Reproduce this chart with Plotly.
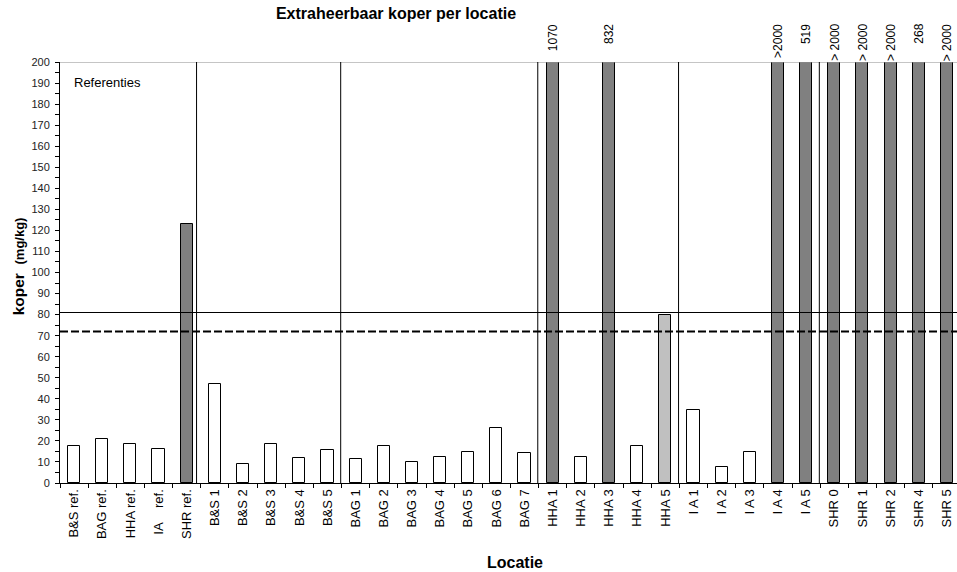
import plotly.graph_objects as go

# Extractable copper per location (mg/kg)
locaties = [
    "B&S ref.", "BAG ref.", "HHA ref.", "IA\u00a0\u00a0\u00a0\u00a0ref.", "SHR ref.",
    "B&S 1", "B&S 2", "B&S 3", "B&S 4", "B&S 5",
    "BAG 1", "BAG 2", "BAG 3", "BAG 4", "BAG 5", "BAG 6", "BAG 7",
    "HHA 1", "HHA 2", "HHA 3", "HHA 4", "HHA 5",
    "I A 1", "I A 2", "I A 3", "I A 4", "I A 5",
    "SHR 0", "SHR 1", "SHR 2", "SHR 4", "SHR 5",
]
koper = [
    17.6, 20.8, 18.6, 16.2, 123.2,
    47.1, 9.2, 18.6, 12.0, 15.7,
    11.4, 17.4, 10.0, 12.4, 14.7, 26.2, 14.3,
    1070, 12.4, 832, 17.6, 79.7,
    34.8, 7.8, 14.6, 2000, 519,
    2000, 2000, 2000, 268, 2000,
]
# labels for values beyond the axis maximum
boven_tekst = {
    "HHA 1": "1070", "HHA 3": "832", "I A 4": ">2000", "I A 5": "519",
    "SHR 0": "> 2000", "SHR 1": "> 2000", "SHR 2": "> 2000",
    "SHR 4": "268", "SHR 5": "> 2000",
}
groep_grootte = [5, 5, 7, 5, 5, 5]
grens_hoog = 81
grens_laag = 72
y_max = 200

FONT = "Liberation Sans, Arial, sans-serif"


def kleur(v):
    if v > grens_hoog:
        return "#808080"
    if v > grens_laag:
        return "#c0c0c0"
    return "#ffffff"


fig = go.Figure(
    go.Bar(
        x=locaties,
        y=koper,
        width=0.43,
        marker=dict(color=[kleur(v) for v in koper],
                    line=dict(color="black", width=1)),
        hoverinfo="x+y",
    )
)

shapes = []
# top border of the plot area
shapes.append(dict(type="line", xref="paper", yref="y", x0=0, x1=1,
                   y0=y_max, y1=y_max, line=dict(color="#8c8c8c", width=1)))
# threshold lines
shapes.append(dict(type="line", xref="paper", yref="y", x0=0, x1=1,
                   y0=grens_hoog, y1=grens_hoog, line=dict(color="black", width=1)))
shapes.append(dict(type="line", xref="paper", yref="y", x0=0, x1=1,
                   y0=grens_laag, y1=grens_laag,
                   line=dict(color="black", width=2, dash="8px,3px")))
# separators between the location groups
pos = -0.5
for i, n in enumerate(groep_grootte[:-1]):
    pos += n
    off = 0.15 if i == 0 else 0.03
    shapes.append(dict(type="line", xref="x", yref="y", x0=pos - off, x1=pos - off,
                       y0=0, y1=y_max, line=dict(color="black", width=1)))

annotations = []
for loc, txt in boven_tekst.items():
    annotations.append(dict(
        x=loc, xref="x", y=1.095, yref="paper", text=txt, textangle=-90,
        showarrow=False, xanchor="center", yanchor="top",
        font=dict(family=FONT, size=12, color="black"),
    ))
annotations.append(dict(
    x=-0.07, xref="x", y=190.2, yref="y", text="Referenties",
    showarrow=False, xanchor="left", yanchor="middle",
    font=dict(family=FONT, size=13, color="black"),
))
annotations.append(dict(
    x=0.507, xref="paper", y=-0.19, yref="paper", text="<b>Locatie</b>",
    showarrow=False, xanchor="center", yanchor="middle",
    font=dict(family=FONT, size=16, color="black"),
))
annotations.append(dict(
    x=-0.046, xref="paper", y=0.514, yref="paper",
    text="<b>koper</b>\u00a0\u00a0<b><span style='font-size:13px'>(mg/kg)</span></b>",
    textangle=-90, showarrow=False, xanchor="center", yanchor="middle",
    font=dict(family=FONT, size=15.5, color="black"),
))

fig.update_layout(
    width=957, height=572,
    margin=dict(l=60, r=0, t=62, b=89),
    paper_bgcolor="white", plot_bgcolor="white",
    showlegend=False,
    title=dict(text="<b>Extraheerbaar koper per locatie</b>",
               x=396 / 957, xref="container", xanchor="center",
               y=1 - 13 / 572, yref="container", yanchor="middle",
               font=dict(family=FONT, size=16, color="black")),
    font=dict(family=FONT, color="black"),
    shapes=shapes,
    annotations=annotations,
    bargap=0,
)
fig.update_xaxes(
    type="category", range=[-0.5, 31.36],
    showline=True, linecolor="black", linewidth=1,
    ticks="outside", ticklen=4, tickcolor="black", tickson="boundaries",
    tickangle=-90, tickfont=dict(family=FONT, size=13, color="black"),
    showgrid=False, zeroline=False,
)
fig.update_yaxes(
    range=[0, y_max], dtick=10, tick0=0,
    showline=True, linecolor="black", linewidth=1,
    ticks="outside", ticklen=4, tickcolor="black", ticklabelstandoff=3,
    minor=dict(dtick=5, ticks="outside", ticklen=4, tickcolor="black", showgrid=False),
    tickfont=dict(family=FONT, size=11, color="#222222"),
    showgrid=False, zeroline=False,
)

fig.write_html("out.html")
